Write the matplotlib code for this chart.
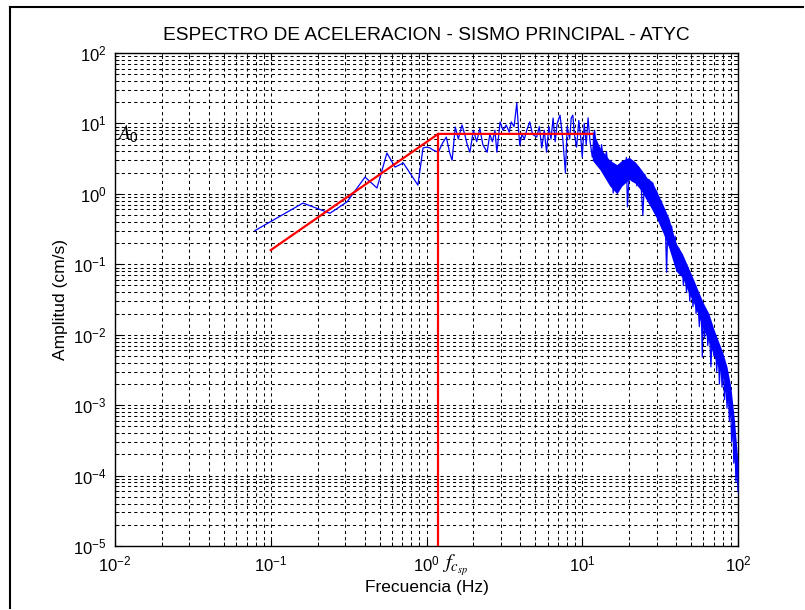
import numpy as np
import matplotlib
matplotlib.use("Agg")
import matplotlib.pyplot as plt
from matplotlib.ticker import LogLocator, NullFormatter, FixedLocator
from matplotlib.lines import Line2D

plt.rcParams['font.family'] = ['Liberation Sans', 'DejaVu Sans']
plt.rcParams['mathtext.default'] = 'regular'

freq = [0.079, 0.161, 0.240, 0.309, 0.403, 0.481, 0.557, 0.628, 0.710, 0.881,
        0.950, 1.00, 1.05, 1.10, 1.19, 1.27, 1.34, 1.41, 1.46, 1.53,
        1.60, 1.69, 1.76, 1.83, 1.90, 2.00, 2.10, 2.20, 2.30, 2.45,
        2.55, 2.65, 2.75, 2.83, 2.97, 3.10, 3.25, 3.40, 3.50, 3.65,
        3.80, 3.90, 3.97, 4.10, 4.25, 4.40, 4.60, 4.80, 5.10, 5.30,
        5.50, 5.70, 5.90, 6.10, 6.30, 6.50, 6.70, 6.90, 7.20, 7.50,
        7.80, 8.00, 8.30, 8.50, 8.70, 8.90, 9.20, 9.50, 9.80, 10.0,
        10.3, 10.6, 10.9, 11.2, 11.6, 12.0, 12.4, 12.9, 13.3, 13.8,
        14.3, 14.8, 15.3, 15.8, 16.2, 16.7, 17.2, 17.7, 18.2, 18.8,
        19.2, 19.5, 20.0, 20.3, 21.0, 21.7, 22.4, 23.0, 23.7, 24.5,
        25.2, 26.0, 26.8, 27.6, 28.4, 29.2, 30.0, 31.0, 32.0, 33.0,
        34.0, 34.8, 35.5, 36.5, 37.5, 38.5, 39.5, 40.6, 41.6, 42.6,
        43.6, 44.6, 45.6, 46.7, 47.8, 49.0, 50.2, 51.4, 52.6, 53.8,
        55.0, 56.5, 58.0, 59.0, 59.6, 61.0, 62.5, 64.0, 65.5, 67.0,
        68.5, 70.0, 71.5, 73.0, 74.5, 76.0, 77.5, 79.0, 80.5, 82.0,
        83.5, 85.0, 86.5, 88.0, 89.5, 91.0, 92.5, 94.0, 95.5, 97.0,
        98.5, 100.0]
amp = [0.30, 0.74, 0.53, 0.77, 1.73, 1.21, 3.80, 2.40, 2.74, 1.33,
       4.48, 4.6, 4.5, 4.2, 3.9, 5.3, 6.4, 3.8, 3.0, 8.9,
       6.0, 9.5, 7.0, 4.9, 3.9, 8.0, 5.5, 8.5, 5.0, 3.9,
       7.0, 5.5, 8.0, 3.9, 10.5, 8.0, 9.5, 7.5, 10.5, 9.0,
       19.5, 8.1, 4.9, 7.0, 6.0, 8.0, 10.5, 7.0, 6.4, 9.0,
       4.5, 8.0, 3.9, 9.0, 6.0, 11.9, 5.5, 10.0, 13.1, 6.0,
       1.97, 9.0, 6.0, 12.0, 13.1, 7.0, 4.6, 11.0, 6.0, 3.3,
       10.0, 5.0, 12.0, 5.8, 3.3, 8.0, 4.0, 2.7, 5.0, 2.5,
       4.0, 1.8, 3.0, 1.03, 2.4, 1.73, 2.6, 1.5, 2.8, 1.6,
       3.3, 0.65, 1.8, 3.0, 1.5, 2.8, 1.3, 2.4, 1.73, 0.5,
       1.9, 0.9, 1.6, 0.8, 1.42, 0.6, 1.1, 0.45, 0.8, 0.35,
       0.55, 0.077, 0.43, 0.2, 0.35, 0.15, 0.25, 0.09, 0.17, 0.07,
       0.12, 0.05, 0.10, 0.04, 0.09, 0.03, 0.06, 0.025, 0.05, 0.02,
       0.035, 0.013, 0.03, 0.0048, 0.025, 0.009, 0.02, 0.007, 0.013, 0.0035,
       0.011, 0.005, 0.009, 0.003, 0.006, 0.002, 0.005, 0.0018, 0.004, 0.0012,
       0.0025, 0.0009, 0.0018, 0.0006, 0.0012, 0.0003, 0.0006, 0.00015, 0.0003, 0.00008,
       0.00018, 0.00006]

# banda densa del espectro por encima de ~11 Hz (envolventes leidas)
band_f = [11.6, 13, 15, 16.7, 18, 20, 22, 24, 26, 28,
          30, 33, 36, 40, 44, 48, 52, 56, 60, 65,
          70, 75, 80, 85, 90, 95, 100]
band_hi = [8.0, 4.5, 3.0, 2.6, 3.0, 3.3, 2.8, 2.2, 1.7, 1.5,
           1.1, 0.7, 0.45, 0.2, 0.14, 0.09, 0.06, 0.04, 0.028, 0.02,
           0.012, 0.008, 0.0055, 0.0035, 0.0018, 0.0006, 0.00015]
band_lo = [3.0, 2.2, 1.3, 1.0, 1.3, 1.6, 1.4, 1.1, 0.8, 0.6,
           0.45, 0.28, 0.17, 0.08, 0.065, 0.04, 0.028, 0.018, 0.012, 0.008,
           0.005, 0.0035, 0.0025, 0.0015, 0.0007, 0.0002, 0.00005]

# modelo ajustado (rojo)
fit_f = [0.1, 1.19, 11.6]
fit_a = [0.159, 7.1, 7.1]
fc = 1.19
a0 = 7.1

xdec = [1e-2, 1e-1, 1e0, 1e1, 1e2]
ydec = [1e-5, 1e-4, 1e-3, 1e-2, 1e-1, 1e0, 1e1, 1e2]

fig = plt.figure(figsize=(8.05, 6.10), dpi=100)
ax = fig.add_axes([115/805, 64/610, 623/805, 493/610])

ax.fill_between(band_f, band_lo, band_hi, color='#0000ff', lw=0, zorder=3)
ax.plot(freq, amp, color='#0000ff', lw=0.9, zorder=3)
ax.plot(fit_f, fit_a, color='#ff0000', lw=1.6, zorder=4)
ax.plot([fc, fc], [1e-5, a0], color='#ff0000', lw=1.6, zorder=4)

ax.set_xscale('log')
ax.set_yscale('log')
ax.set_xlim(1e-2, 1e2)
ax.set_ylim(1e-5, 1e2)

ax.xaxis.set_major_locator(FixedLocator(xdec))
ax.yaxis.set_major_locator(FixedLocator(ydec))
for axis in (ax.xaxis, ax.yaxis):
    axis.set_minor_locator(LogLocator(base=10, subs=np.arange(2, 10), numticks=100))
    axis.set_minor_formatter(NullFormatter())

ax.grid(True, which='both', linestyle=(0, (3, 3)), color='k', linewidth=0.75)
ax.tick_params(which='both', direction='in', top=True, right=True, colors='k')
ax.tick_params(which='major', length=5, labelsize=12, pad=6)
ax.tick_params(which='minor', length=3)
for s in ax.spines.values():
    s.set_linewidth(1.0)

ax.set_title('ESPECTRO DE ACELERACION - SISMO PRINCIPAL - ATYC', fontsize=13.8, pad=9)
ax.set_xlabel('Frecuencia (Hz)', fontsize=12.5)
ax.set_ylabel('Amplitud (cm/s)', fontsize=12.5)

ax.text(0.004, a0, r'$\mathit{A}_{0}$', transform=ax.get_yaxis_transform(), ha='left', va='center',
        fontsize=14, math_fontfamily='stix', zorder=5)
ax.text(fc * 1.06, -0.012, r'$\mathit{f}_{\mathit{c}_{\mathit{sp}}}$', transform=ax.get_xaxis_transform(),
        ha='left', va='top', fontsize=15, math_fontfamily='stix')

# marco de la figura
fig.add_artist(Line2D([10/805, 10/805], [2/610, 1 - 7/610], color='k', lw=1.5))
fig.add_artist(Line2D([10/805, 803/805], [1 - 7/610, 1 - 7/610], color='k', lw=1.5))

fig.savefig('out.png', dpi=100)
